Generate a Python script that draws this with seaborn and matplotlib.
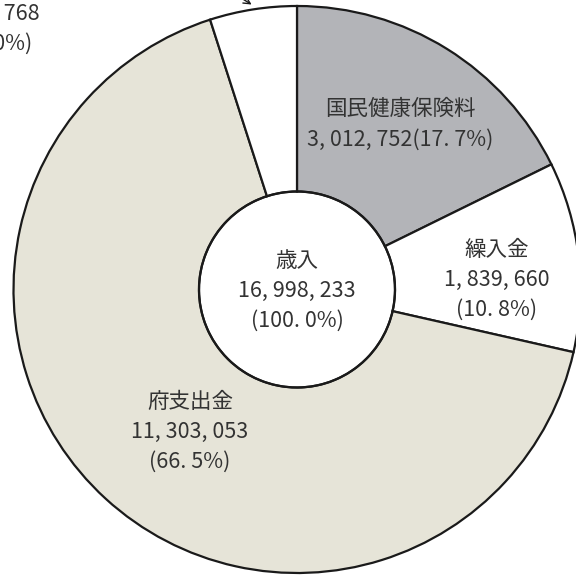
import matplotlib
matplotlib.use("Agg")
import matplotlib.pyplot as plt
import seaborn as sns

categories = ["国民健康保険料", "繰入金", "府支出金", "その他"]
values = [3012752, 1839660, 11303053, 842768]
value_labels = ["3, 012, 752", "1, 839, 660", "11, 303, 053", "842, 768"]
pct_labels = ["17. 7%", "10. 8%", "66. 5%", "5. 0%"]
total_label = ["歳入", "16, 998, 233", "(100. 0%)"]
colors = ["#b3b4b8", "#ffffff", "#e6e4d8", "#ffffff"]

sns.set_theme(style="white")
plt.rcParams["font.family"] = ["Noto Sans CJK JP", "DejaVu Sans"]

fig = plt.figure(figsize=(5.76, 5.76), dpi=100)
ax = fig.add_axes([0, 0, 1, 1])

CX, CY, R = 297.0, 289.5, 283.5
def P(px, py):
    return ((px - CX) / R, (CY - py) / R)

ax.pie(values, colors=colors, startangle=90, counterclock=False, radius=1.0,
       wedgeprops=dict(width=1 - 98 / R, edgecolor="#1a1a1a", linewidth=1.6))
circ = plt.Circle((0, 0), 98 / R, facecolor="none", edgecolor="#1a1a1a", linewidth=1.6)
ax.add_patch(circ)

ax.set_aspect("equal")
ax.set_xlim(-CX / R, (576 - CX) / R)
ax.set_ylim(-(576 - CY) / R, CY / R)
ax.axis("off")

tc = "#333333"
fs = 15.5
ls = 1.48
ax.text(*P(400, 109), categories[0], ha="center", va="center", fontsize=fs, color=tc)
ax.text(*P(400, 140), f"{value_labels[0]}({pct_labels[0]})", ha="center", va="center", fontsize=fs, color=tc)

ax.text(*P(497, 280), f"{categories[1]}\n{value_labels[1]}\n({pct_labels[1]})", ha="center", va="center",
        fontsize=fs, color=tc, linespacing=ls)
ax.text(*P(190, 432), f"{categories[2]}\n{value_labels[2]}\n({pct_labels[2]})", ha="center", va="center",
        fontsize=fs, color=tc, linespacing=ls)
ax.text(*P(297, 291), "\n".join(total_label), ha="center", va="center",
        fontsize=fs, color=tc, linespacing=ls)
ax.text(*P(-2, 29), f"{value_labels[3]}\n({pct_labels[3]})", ha="center", va="center",
        fontsize=fs, color=tc, linespacing=ls)
ax.annotate("", xy=P(254, 6), xytext=P(225, -12),
            arrowprops=dict(arrowstyle="->", color="#1a1a1a", lw=1.0))

fig.savefig("out.png", dpi=100)
